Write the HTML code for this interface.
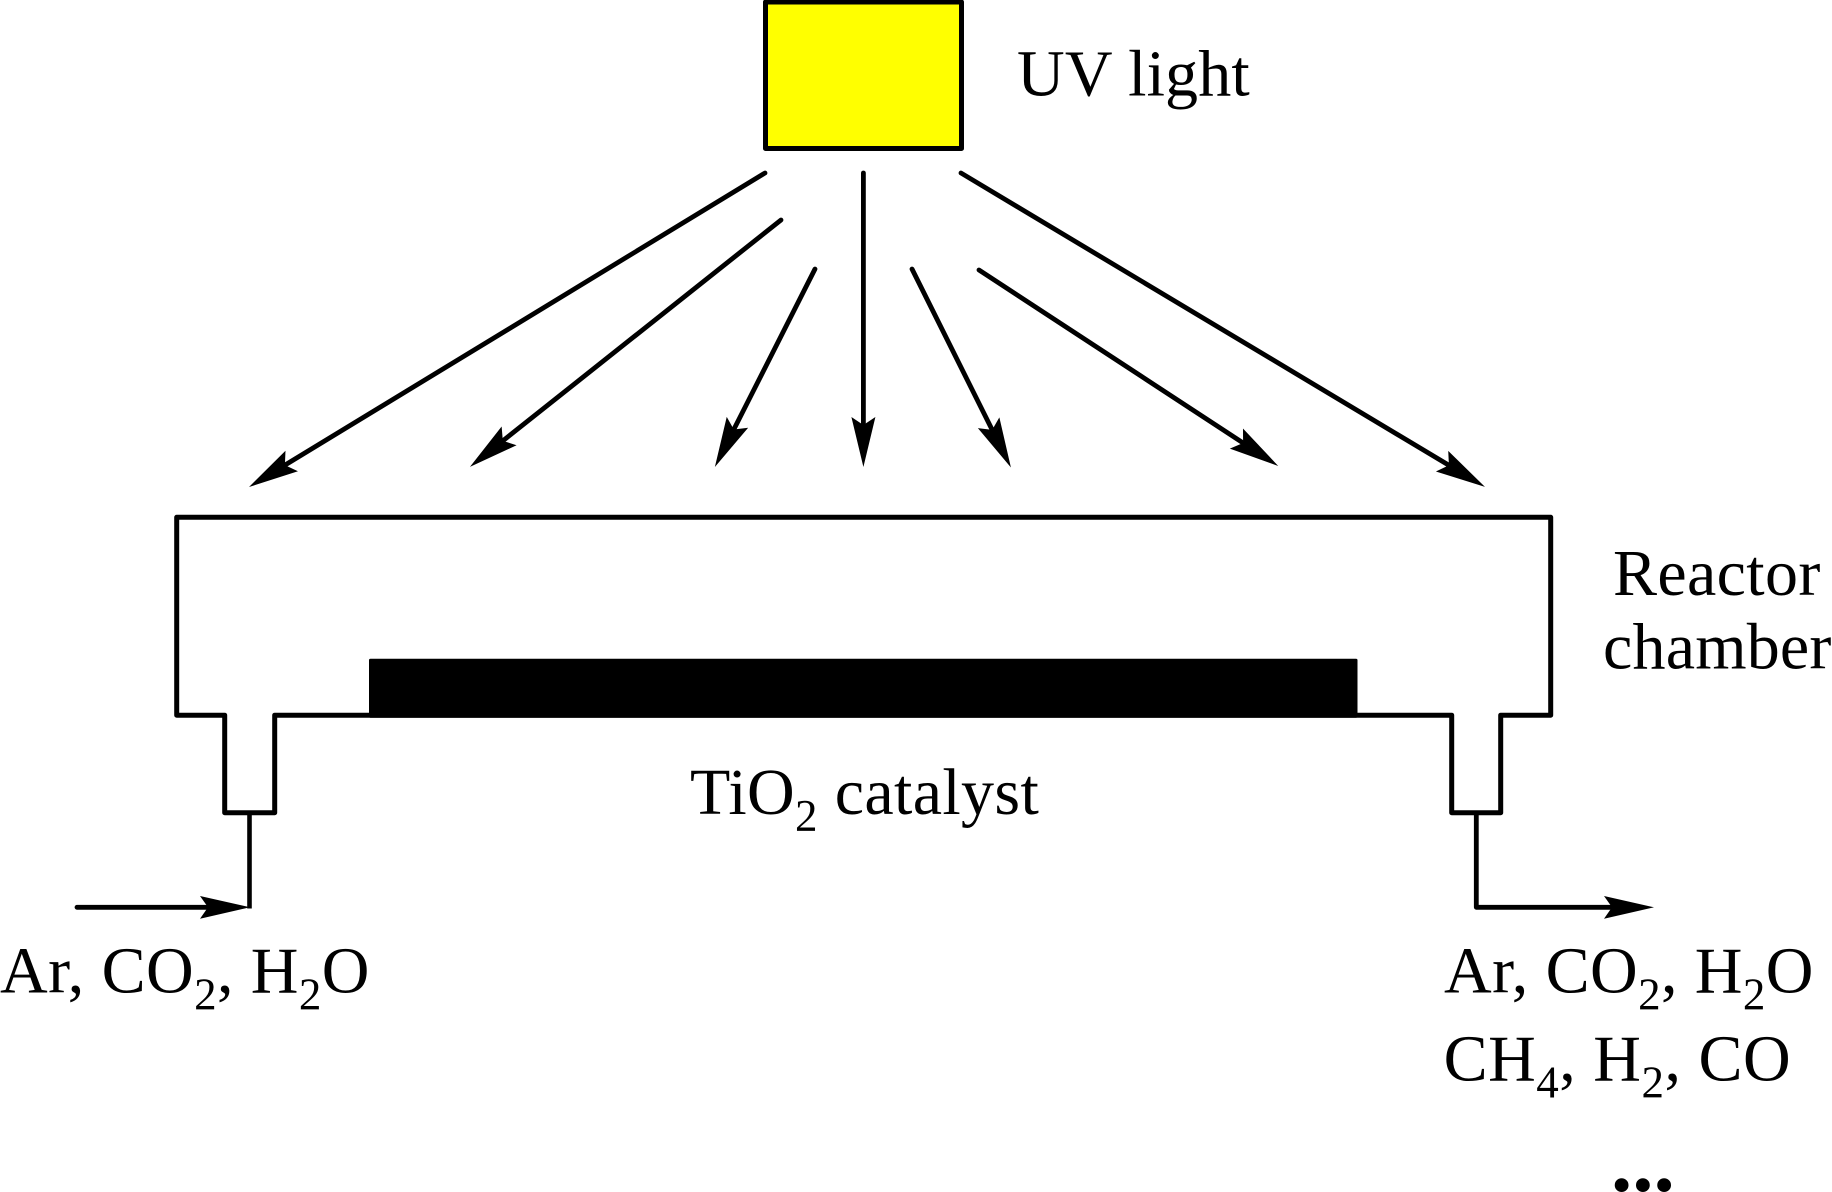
<!DOCTYPE html>
<html>
<head>
<meta charset="utf-8">
<style>
html,body{margin:0;padding:0;background:#fff;}
svg{display:block;}
text{font-family:"Liberation Serif",serif;font-size:66px;fill:#000;}
.s{font-size:45px;}
</style>
</head>
<body>
<svg width="1832" height="1192" viewBox="0 0 1832 1192" xmlns="http://www.w3.org/2000/svg">
<defs>
<marker id="a" markerUnits="userSpaceOnUse" markerWidth="60" markerHeight="30" viewBox="0 -15 60 30" refX="30" refY="0" orient="auto">
<path d="M0,-12 L50,0 L0,12 L8,0Z" fill="#000"/>
</marker>
</defs>
<rect width="1832" height="1192" fill="#fff"/>
<rect x="765.5" y="2" width="196" height="146.5" fill="#ffff00" stroke="#000" stroke-width="5" stroke-linejoin="round"/>
<g stroke="#000" stroke-width="4.8" fill="none" stroke-linecap="round">
<line x1="765" y1="173" x2="266.1" y2="476.6" marker-end="url(#a)"/>
<line x1="781" y1="220" x2="485.6" y2="454.5" marker-end="url(#a)"/>
<line x1="815" y1="269" x2="723.9" y2="449.1" marker-end="url(#a)"/>
<line x1="863.4" y1="173" x2="863.4" y2="447" marker-end="url(#a)"/>
<line x1="912" y1="269" x2="1002" y2="449.6" marker-end="url(#a)"/>
<line x1="979" y1="270" x2="1261.5" y2="455" marker-end="url(#a)"/>
<line x1="961" y1="173" x2="1467.8" y2="476.6" marker-end="url(#a)"/>
</g>
<path d="M176.7,517.3 H1550.7 V715.2 H1500.7 V812.7 H1451.7 V715.2 H274.7 V812.7 H224.7 V715.2 H176.7 Z" fill="#fff" stroke="#000" stroke-width="5" stroke-linejoin="round"/>
<rect x="369" y="658.7" width="988.5" height="59" rx="1.5" fill="#000"/>
<line x1="249.5" y1="812.7" x2="249.5" y2="908.5" stroke="#000" stroke-width="4.6"/>
<line x1="77" y1="907.3" x2="225" y2="907.3" stroke="#000" stroke-width="4.8" stroke-linecap="round"/>
<path d="M200,896 L250,907.3 L200,918.7 L208,907.3Z" fill="#000"/>
<path d="M1476.3,812.7 V907.3 H1625" fill="none" stroke="#000" stroke-width="4.8" stroke-linejoin="round"/>
<path d="M1604,896 L1654,907.3 L1604,918.7 L1612,907.3Z" fill="#000"/>
<text x="1017" y="95.5" letter-spacing="0.15">UV light</text>
<text x="1613" y="595" letter-spacing="0.35">Reactor</text>
<text x="1603" y="668.5" letter-spacing="0.2">chamber</text>
<text x="690" y="814" letter-spacing="0.35">TiO<tspan dy="17" class="s">2</tspan><tspan dy="-17"> catalyst</tspan></text>
<text x="0" y="992.7" letter-spacing="0.4">Ar, CO<tspan dy="17" class="s">2</tspan><tspan dy="-17">, H</tspan><tspan dy="17" class="s">2</tspan><tspan dy="-17">O</tspan></text>
<text x="1444" y="992.7" letter-spacing="0.4">Ar, CO<tspan dy="17" class="s">2</tspan><tspan dy="-17">, H</tspan><tspan dy="17" class="s">2</tspan><tspan dy="-17">O</tspan></text>
<text x="1443.6" y="1080.7" letter-spacing="0.5">CH<tspan dy="17" class="s">4</tspan><tspan dy="-17">, H</tspan><tspan dy="17" class="s">2</tspan><tspan dy="-17">, CO</tspan></text>
<text x="1611" y="1191" style="font-size:85px;font-weight:bold">...</text>
</svg>
</body>
</html>
